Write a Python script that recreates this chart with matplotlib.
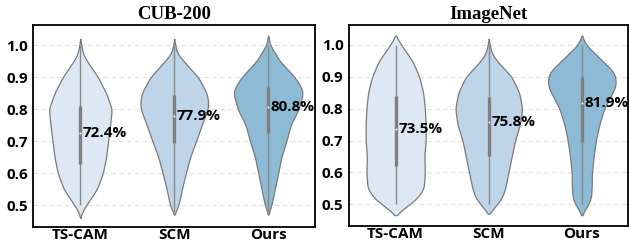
import numpy as np
import matplotlib
matplotlib.use("Agg")
import matplotlib.pyplot as plt

methods = ["TS-CAM", "SCM", "Ours"]
datasets = ["CUB-200", "ImageNet"]
labels = {"CUB-200": ["72.4%", "77.9%", "80.8%"],
          "ImageNet": ["73.5%", "75.8%", "81.9%"]}

# violin outlines: value grid and relative density
cub_tscam_y = [0.46, 0.48, 0.50, 0.55, 0.60, 0.65, 0.70, 0.75, 0.80, 0.85, 0.90, 0.95, 0.97, 1.00, 1.02]
cub_tscam_d = [0.0, 2.0, 6.0, 16.7, 22.7, 26.0, 28.0, 30.0, 31.7, 26.0, 17.7, 6.7, 3.0, 1.0, 0.0]
cub_scm_y = [0.47, 0.50, 0.55, 0.60, 0.65, 0.70, 0.75, 0.80, 0.82, 0.85, 0.90, 0.95, 0.975, 1.00, 1.02]
cub_scm_d = [0.0, 4.3, 7.7, 11.7, 16.0, 22.0, 27.7, 33.7, 34.3, 32.7, 24.0, 9.3, 3.0, 1.0, 0.0]
cub_ours_y = [0.47, 0.50, 0.55, 0.60, 0.65, 0.70, 0.75, 0.80, 0.85, 0.87, 0.90, 0.95, 1.00, 1.03]
cub_ours_d = [0.0, 3.3, 6.7, 10.0, 13.3, 18.3, 22.7, 30.7, 35.0, 33.0, 26.7, 11.7, 2.0, 0.0]
in_tscam_y = [0.465, 0.48, 0.50, 0.52, 0.55, 0.60, 0.65, 0.70, 0.75, 0.80, 0.85, 0.90, 0.95, 1.00, 1.03]
in_tscam_d = [0.0, 5.7, 14.0, 22.0, 28.5, 29.7, 29.2, 30.5, 30.5, 29.7, 28.0, 24.0, 17.0, 5.7, 0.0]
in_scm_y = [0.47, 0.48, 0.50, 0.52, 0.55, 0.60, 0.65, 0.70, 0.75, 0.80, 0.85, 0.90, 0.95, 0.975, 1.00, 1.02]
in_scm_d = [0.0, 3.3, 8.3, 13.3, 16.7, 20.0, 23.3, 26.7, 31.7, 34.0, 31.0, 23.3, 8.3, 3.0, 1.0, 0.0]
in_ours_y = [0.465, 0.48, 0.50, 0.52, 0.55, 0.60, 0.65, 0.70, 0.75, 0.80, 0.85, 0.87, 0.90, 0.92, 0.95, 1.00, 1.03]
in_ours_d = [0.0, 2.7, 6.7, 9.3, 10.0, 10.3, 12.0, 14.3, 17.7, 22.7, 31.0, 34.3, 34.3, 31.0, 21.0, 4.3, 0.0]

# box statistics: whisker low, q1, median, q3, whisker high
cub_box = [[0.50, 0.63, 0.724, 0.809, 1.00],
           [0.48, 0.695, 0.779, 0.844, 1.00],
           [0.48, 0.724, 0.808, 0.868, 1.00]]
in_box = [[0.50, 0.62, 0.735, 0.84, 1.00],
          [0.50, 0.651, 0.758, 0.838, 1.00],
          [0.50, 0.696, 0.819, 0.898, 1.00]]

violins = {"CUB-200": [(cub_tscam_y, cub_tscam_d), (cub_scm_y, cub_scm_d), (cub_ours_y, cub_ours_d)],
           "ImageNet": [(in_tscam_y, in_tscam_d), (in_scm_y, in_scm_d), (in_ours_y, in_ours_d)]}
boxes = {"CUB-200": cub_box, "ImageNet": in_box}

colors = ["#dde8f4", "#bed4e8", "#8dbbd5"]
yticks = [0.5, 0.6, 0.7, 0.8, 0.9, 1.0]

FONT = "Open Sans"
FS = 11
fig = plt.figure(figsize=(6.29, 2.48), dpi=100)
axes_pos = [[0.053, 0.085, 0.448, 0.814], [0.555, 0.089, 0.444, 0.810]]

gmax = max(max(d) for ds in datasets for _, d in violins[ds])
half_max = 0.37

for ai, ds in enumerate(datasets):
    ax = fig.add_axes(axes_pos[ai])
    for yv in yticks:
        ax.axhline(yv, color="#dddddd", lw=0.7, ls=(0, (5, 3)), zorder=0)
    for i, ((vy, vd), st) in enumerate(zip(violins[ds], boxes[ds])):
        yy = np.linspace(vy[0], vy[-1], 300)
        dd = np.interp(yy, vy, vd)
        k = np.ones(15) / 15
        dd = np.convolve(np.pad(dd, 7, mode="edge"), k, mode="valid")
        dd[0] = 0; dd[-1] = 0
        w = dd / gmax * half_max
        ax.fill_betweenx(yy, i - w, i + w, facecolor=colors[i], edgecolor="#7a7a7a", lw=0.9, zorder=2)
        lo, q1, med, q3, hi = st
        ax.plot([i, i], [lo, hi], color="#8a8a8a", lw=1.0, zorder=3, solid_capstyle="butt")
        ax.plot([i, i], [q1, q3], color="#7f7f7f", lw=2.4, zorder=4, solid_capstyle="butt")
        ax.plot([i], [med], marker="o", ms=1.4, color="white", mec="none", zorder=5)
        ax.text(i + 0.03, med, labels[ds][i], ha="left", va="center", fontsize=FS,
                fontweight="bold", family=FONT, zorder=6)
    ax.set_xlim(-0.5, 2.5)
    ax.set_ylim(0.432, 1.0625)
    ax.set_yticks(yticks)
    ax.set_yticklabels([f"{v:.1f}" for v in yticks], fontsize=FS, fontweight="bold", family=FONT)
    ax.set_xticks(range(3))
    ax.set_xticklabels(methods, fontsize=FS, fontweight="bold", family=FONT)
    ax.tick_params(axis="both", length=0, pad=4)
    ax.tick_params(axis="x", pad=1)
    for s in ax.spines.values():
        s.set_linewidth(1.3)
        s.set_color("black")
    ax.set_title(ds, fontsize=13.5, fontweight="bold", family="Liberation Serif", pad=4)

fig.savefig("out.png", dpi=100)
